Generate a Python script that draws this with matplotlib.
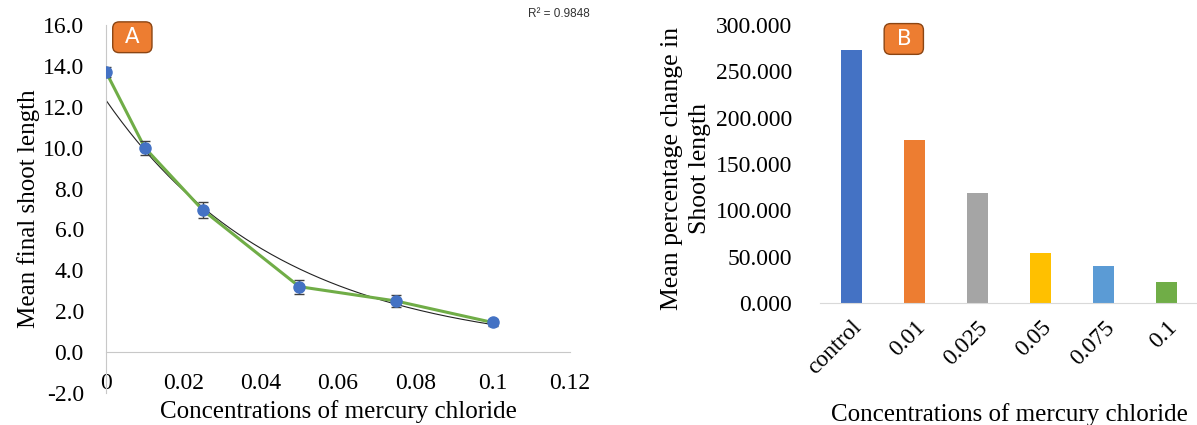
import matplotlib
matplotlib.use("Agg")
import matplotlib.pyplot as plt
import numpy as np

# Panel A: mean final shoot length vs HgCl2 concentration
conc = [0.0, 0.01, 0.025, 0.05, 0.075, 0.1]
shoot_mean = [13.7, 10.0, 6.95, 3.2, 2.5, 1.45]
shoot_err = [0.25, 0.35, 0.4, 0.35, 0.3, 0.15]
r2_text = "R\u00b2 = 0.9848"

# Panel B: mean percentage change in shoot length
groups = ["control", "0.01", "0.025", "0.05", "0.075", "0.1"]
pct_change = [273.0, 176.0, 119.0, 54.5, 39.5, 23.0]
bar_colors = ["#4472C4", "#ED7D31", "#A5A5A5", "#FFC000", "#5B9BD5", "#70AD47"]

plt.rcParams["font.family"] = ["Liberation Serif", "DejaVu Serif"]

fig = plt.figure(figsize=(11.97, 4.25), dpi=100)

label_box = dict(boxstyle="round,pad=0.25,rounding_size=0.3", fc="#ED7D31",
                 ec="#8B4513", lw=1.0)

# ---- panel A ----
ax = fig.add_axes([0.0886, 0.0753, 0.3876, 0.8659])
ax.plot(conc, shoot_mean, color="#70AD47", lw=2.2, zorder=2)
ax.errorbar(conc, shoot_mean, yerr=shoot_err, fmt="none", ecolor="#404040",
            elinewidth=1.0, capsize=3.5, capthick=1.0, zorder=3)
ax.plot(conc, shoot_mean, "o", color="#4472C4", ms=8, zorder=4)

# exponential trendline fitted to the means
b, ln_a = np.polyfit(conc, np.log(shoot_mean), 1)
xs = np.linspace(conc[0], conc[-1], 200)
ax.plot(xs, np.exp(ln_a) * np.exp(b * xs), color="#222222", lw=0.8, zorder=1)

ax.set_xlim(0, 0.12)
ax.set_ylim(-2, 16)
ax.set_yticks(np.arange(-2, 17, 2))
ax.set_yticklabels([f"{v:.1f}" for v in np.arange(-2, 17, 2)])
ax.set_xticks([0, 0.02, 0.04, 0.06, 0.08, 0.1, 0.12])
ax.set_xticklabels(["0", "0.02", "0.04", "0.06", "0.08", "0.1", "0.12"])
for s in ["top", "right"]:
    ax.spines[s].set_visible(False)
ax.spines["bottom"].set_position(("data", 0))
ax.spines["bottom"].set_color("#C8C8C8")
ax.spines["left"].set_color("#C8C8C8")
ax.tick_params(length=0, labelsize=17)
ax.tick_params(axis="y", pad=16)
ax.tick_params(axis="x", pad=15)
ax.set_ylabel("Mean final shoot length", fontsize=18, labelpad=2)
ax.text(0.5, -0.02, "Concentrations of mercury chloride", transform=ax.transAxes,
        ha="center", va="top", fontsize=18)
ax.text(0.0068, 15.4, " A ", ha="center", va="center", fontsize=15.5,
        color="white", family="DejaVu Sans", bbox=label_box)
fig.text(0.493, 0.966, r2_text, ha="right", va="center", fontsize=8.5,
         family="Liberation Sans", color="#333333")

# ---- panel B ----
bx = fig.add_axes([0.685, 0.287, 0.316, 0.654])
x = np.arange(len(groups))
bx.bar(x, pct_change, width=0.33, color=bar_colors)
bx.set_xlim(-0.5, len(groups) - 0.5)
bx.set_ylim(0, 300)
bx.set_yticks(np.arange(0, 301, 50))
bx.set_yticklabels([f"{v:.3f}" for v in np.arange(0, 301, 50)])
bx.set_xticks(x)
bx.set_xticklabels(groups, rotation=45, ha="right", rotation_mode="anchor")
for s in ["top", "right", "left"]:
    bx.spines[s].set_visible(False)
bx.spines["bottom"].set_color("#D9D9D9")
bx.tick_params(length=0, labelsize=17)
bx.tick_params(axis="y", pad=20)
bx.tick_params(axis="x", pad=10)
fig.text(686 / 1197, 1 - 168 / 425, "Mean percentage change in\nShoot length",
         rotation=90, ha="center", va="center", fontsize=18.5, linespacing=1.3)
bx.text(0.5, -0.36, "Concentrations of mercury chloride", transform=bx.transAxes,
        ha="center", va="top", fontsize=18)
bx.text(0.83, 285, " B ", ha="center", va="center", fontsize=15.5,
        color="white", family="DejaVu Sans", bbox=label_box)

fig.savefig("out.png", dpi=100, facecolor="white")
